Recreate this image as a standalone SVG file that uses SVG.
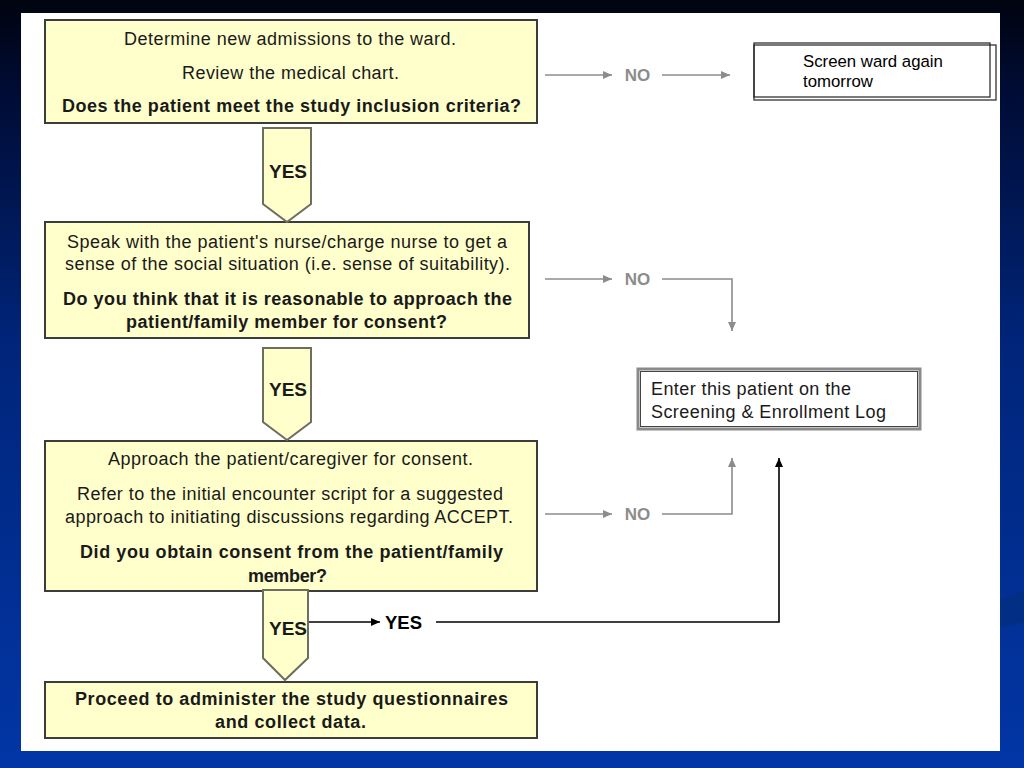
<svg xmlns="http://www.w3.org/2000/svg" width="1024" height="768" viewBox="0 0 1024 768">
<defs>
<linearGradient id="bg" x1="0" y1="0" x2="0" y2="1">
<stop offset="0" stop-color="#00040f"/>
<stop offset="0.12" stop-color="#000c35"/>
<stop offset="0.45" stop-color="#00257a"/>
<stop offset="1" stop-color="#0236a6"/>
</linearGradient>
<marker id="ag" markerUnits="userSpaceOnUse" markerWidth="10" markerHeight="8" refX="9" refY="4" orient="auto">
<path d="M0,0 L9,4 L0,8 z" fill="#8c8c8c"/>
</marker>
<marker id="ab" markerUnits="userSpaceOnUse" markerWidth="10" markerHeight="8" refX="9" refY="4" orient="auto">
<path d="M0,0 L9,4 L0,8 z" fill="#000"/>
</marker>
</defs>
<style>
.box{fill:#ffffcc;stroke:#3c3c3c;stroke-width:2}
.t{font-family:"Liberation Sans",Arial,sans-serif;font-size:18px;fill:#1a1a1a;text-anchor:middle}
.b{font-weight:bold}
.yes{fill:#ffffcc;stroke:#6e6e60;stroke-width:2}
.yt{font-family:"Liberation Sans",Arial,sans-serif;font-size:19px;font-weight:bold;fill:#1a1a1a;text-anchor:middle}
.g{stroke:#8c8c8c;stroke-width:1.6;fill:none}
.k{stroke:#000;stroke-width:1.6;fill:none}
.no{font-family:"Liberation Sans",Arial,sans-serif;font-size:17px;font-weight:bold;fill:#8c8c8c;text-anchor:middle}
.s{font-family:"Liberation Sans",Arial,sans-serif;fill:#000}
</style>
<rect x="0" y="0" width="1024" height="768" fill="url(#bg)"/>
<path d="M1000,600 L1024,590 L1024,622 L1000,627 z" fill="#03307f" opacity="0.8"/>
<rect x="21" y="13" width="979" height="738" fill="#ffffff"/>

<g id="connectors">
<line class="g" x1="545" y1="75" x2="612" y2="75" marker-end="url(#ag)"/>
<text class="no" x="637.5" y="81">NO</text>
<line class="g" x1="662" y1="75" x2="730" y2="75" marker-end="url(#ag)"/>
<line class="g" x1="545" y1="279" x2="612" y2="279" marker-end="url(#ag)"/>
<text class="no" x="637.5" y="285">NO</text>
<path class="g" d="M662,279 H732 V331" marker-end="url(#ag)"/>
<line class="g" x1="545" y1="514" x2="612" y2="514" marker-end="url(#ag)"/>
<text class="no" x="637.5" y="520">NO</text>
<path class="g" d="M662,514 H732 V458" marker-end="url(#ag)"/>
<line class="k" x1="309" y1="622" x2="380" y2="622" marker-end="url(#ab)"/>
<text class="yt" x="403.5" y="629" style="font-size:18.5px;fill:#000">YES</text>
<path class="k" d="M436,622 H779 V458" marker-end="url(#ab)"/>
</g>

<g id="n1">
<rect class="box" x="45" y="20" width="492" height="103"/>
<text class="t" x="290" y="45" textLength="332" lengthAdjust="spacing">Determine new admissions to the ward.</text>
<text class="t" x="290.5" y="79" textLength="217" lengthAdjust="spacing">Review the medical chart.</text>
<text class="t b" x="291.5" y="112" textLength="459" lengthAdjust="spacing">Does the patient meet the study inclusion criteria?</text>
</g>

<g id="n2">
<rect class="box" x="45" y="222" width="484" height="116"/>
<text class="t" x="287" y="248" textLength="440" lengthAdjust="spacing">Speak with the patient's nurse/charge nurse to get a</text>
<text class="t" x="287.5" y="270" textLength="445" lengthAdjust="spacing">sense of the social situation (i.e. sense of suitability).</text>
<text class="t b" x="287.5" y="305" textLength="449" lengthAdjust="spacing">Do you think that it is reasonable to approach the</text>
<text class="t b" x="286.5" y="328" textLength="321" lengthAdjust="spacing">patient/family member for consent?</text>
</g>

<g id="n3">
<rect class="box" x="45" y="441" width="492" height="150"/>
<text class="t" x="290.5" y="465" textLength="365" lengthAdjust="spacing">Approach the patient/caregiver for consent.</text>
<text class="t" x="290" y="500" textLength="426" lengthAdjust="spacing">Refer to the initial encounter script for a suggested</text>
<text class="t" x="289" y="523" textLength="448" lengthAdjust="spacing">approach to initiating discussions regarding ACCEPT.</text>
<text class="t b" x="291.5" y="558" textLength="423" lengthAdjust="spacing">Did you obtain consent from the patient/family</text>
<text class="t b" x="287.5" y="582" textLength="79" lengthAdjust="spacing">member?</text>
</g>

<g id="n4">
<rect class="box" x="45" y="682" width="492" height="56"/>
<text class="t b" x="291.5" y="705" textLength="433" lengthAdjust="spacing">Proceed to administer the study questionnaires</text>
<text class="t b" x="290.5" y="728" textLength="151" lengthAdjust="spacing">and collect data.</text>
</g>

<g id="yes1">
<polygon class="yes" points="263,128 311,128 311,204 287,222 263,204"/>
<text class="yt" x="288" y="178">YES</text>
</g>
<g id="yes2">
<polygon class="yes" points="263,348 311,348 311,422 287,440 263,422"/>
<text class="yt" x="288" y="396">YES</text>
</g>
<g id="yes3">
<polygon class="yes" points="263,590 308,590 308,658 285,680 263,658"/>
<text class="yt" x="288" y="635">YES</text>
</g>

<g id="screen">
<rect x="754" y="43" width="242" height="57" fill="#ffffff"/>
<rect x="754" y="45" width="242" height="55" fill="none" stroke="#222" stroke-width="1.2"/>
<rect x="754" y="43" width="236" height="54" fill="none" stroke="#222" stroke-width="1.2"/>
<text class="s" x="803" y="67" style="font-size:16.8px">Screen ward again</text>
<text class="s" x="803" y="87" style="font-size:16.8px">tomorrow</text>
</g>

<g id="enter">
<rect x="638" y="369" width="282" height="60" fill="#ffffff" stroke="#8a8a8a" stroke-width="3"/>
<rect x="640.5" y="371.5" width="277" height="55" fill="none" stroke="#444" stroke-width="1"/>
<text class="s" x="651" y="395" style="font-size:18px;fill:#1a1a1a" textLength="200" lengthAdjust="spacing">Enter this patient on the</text>
<text class="s" x="651" y="418" style="font-size:18px;fill:#1a1a1a" textLength="235" lengthAdjust="spacing">Screening &amp; Enrollment Log</text>
</g>
</svg>
